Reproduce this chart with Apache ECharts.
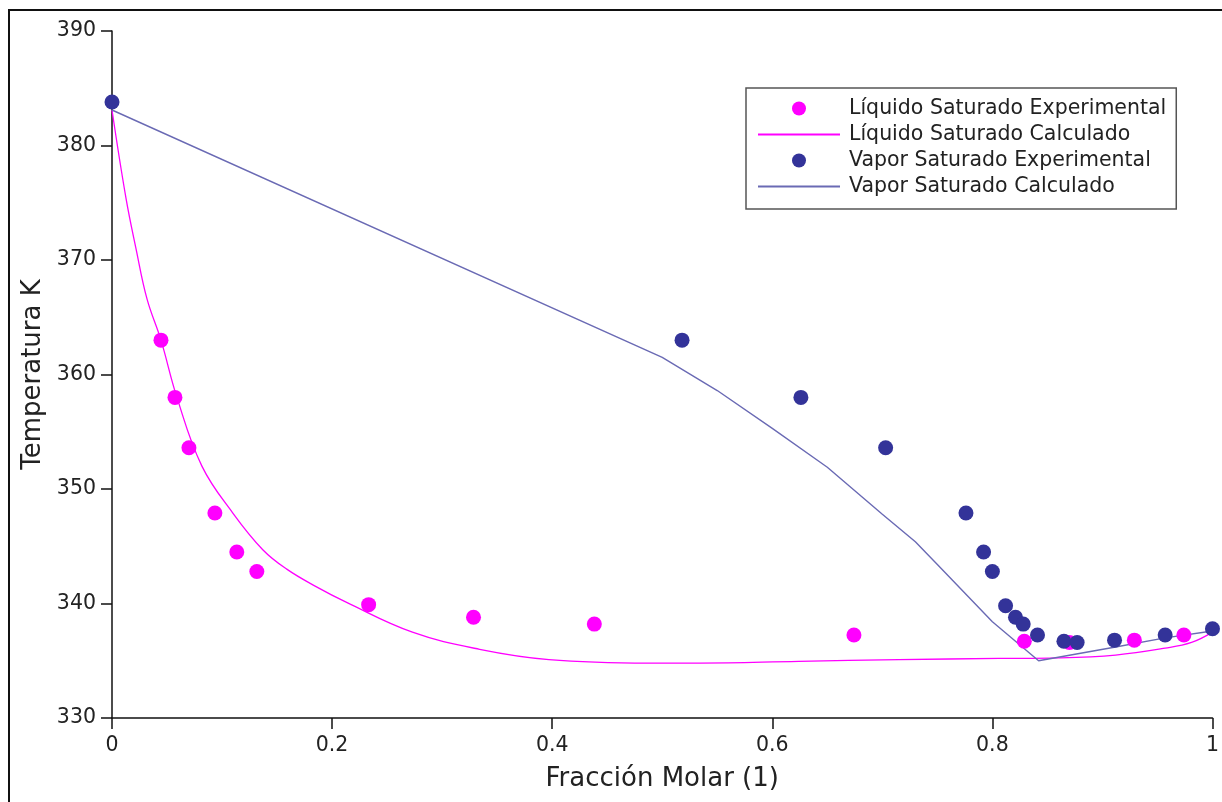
<!DOCTYPE html>
<html>
<head>
<meta charset="utf-8">
<script src="https://cdn.jsdelivr.net/npm/echarts@6/dist/echarts.min.js"></script>
<style>
  html, body { margin: 0; padding: 0; background: #fff; }
  #chart { width: 1222px; height: 802px; }
</style>
</head>
<body>
<div id="chart"></div>
<script>
// Saturated liquid, experimental (mole fraction, K)
const xLiqExp = [0.0445, 0.0572, 0.0699, 0.0935, 0.1134, 0.1316, 0.2332, 0.3285, 0.4383, 0.6742, 0.829, 0.870, 0.929, 0.974];
const tLiqExp = [363.0, 358.0, 353.6, 347.9, 344.5, 342.8, 339.9, 338.8, 338.2, 337.25, 336.7, 336.6, 336.8, 337.25];

// Saturated liquid, calculated curve
const xLiqCalc = [0, 0.0127, 0.0218, 0.0318, 0.0445, 0.059, 0.0817, 0.1098, 0.137, 0.1588, 0.185, 0.2132, 0.273, 0.334, 0.397, 0.488, 0.534, 0.624, 0.715, 0.806, 0.860, 0.912, 0.957, 0.981, 1.0];
const tLiqCalc = [383.1, 375.4, 371.0, 366.6, 363.0, 358.0, 352.0, 347.9, 344.7, 343.0, 341.5, 340.1, 337.5, 336.0, 335.1, 334.8, 334.8, 334.95, 335.1, 335.2, 335.25, 335.5, 336.1, 336.6, 337.5];

// Saturated vapour, experimental
const xVapExp = [0, 0.518, 0.626, 0.703, 0.776, 0.792, 0.800, 0.812, 0.821, 0.828, 0.841, 0.865, 0.877, 0.911, 0.957, 1.0];
const tVapExp = [383.8, 363.0, 358.0, 353.6, 347.9, 344.5, 342.8, 339.8, 338.8, 338.2, 337.25, 336.7, 336.6, 336.8, 337.25, 337.8];

// Saturated vapour, calculated curve
const xVapCalc = [0, 0.5, 0.55, 0.6, 0.65, 0.7, 0.73, 0.75, 0.8, 0.842, 0.912, 0.957, 1.0];
const tVapCalc = [383.1, 361.5, 358.6, 355.3, 351.9, 347.8, 345.4, 343.4, 338.4, 335.0, 336.2, 337.0, 337.6];

// Axis ticks
const xTicks = [0, 0.2, 0.4, 0.6, 0.8, 1];
const yTicks = [330, 340, 350, 360, 370, 380, 390];

const pairs = (xs, ys) => xs.map((x, i) => [x, ys[i]]);

const FONT = 'DejaVu Sans';
const MAGENTA = '#ff00ff';
const NAVY = '#333399';
const SLATE = '#6a6ab4';

const chart = echarts.init(document.getElementById('chart'), null, { renderer: 'canvas' });

chart.setOption({
  animation: false,
  backgroundColor: '#fff',
  textStyle: { fontFamily: FONT },
  graphic: [{
    type: 'rect',
    shape: { x: 9, y: 10, width: 1240, height: 820 },
    style: { fill: 'none', stroke: '#111', lineWidth: 2 },
    silent: true, z: -1
  }],
  grid: { left: 112, right: 8, top: 31, bottom: 84, containLabel: false },
  legend: {
    orient: 'vertical',
    left: 746, top: 88,
    padding: [10, 10, 12, 11],
    itemWidth: 82, itemHeight: 14, itemGap: 5,
    backgroundColor: '#fff',
    borderColor: '#555', borderWidth: 1.5, borderRadius: 0,
    textStyle: { fontFamily: FONT, fontSize: 20.5, color: '#222', padding: [0, 0, 0, 4] },
    data: [
      { name: 'Líquido Saturado Experimental' },
      { name: 'Líquido Saturado Calculado', itemStyle: { opacity: 0 } },
      { name: 'Vapor Saturado Experimental' },
      { name: 'Vapor Saturado Calculado', itemStyle: { opacity: 0 } }
    ]
  },
  xAxis: {
    type: 'value',
    min: xTicks[0], max: xTicks[xTicks.length - 1], interval: 0.2,
    name: 'Fracción Molar (1)',
    nameLocation: 'middle', nameGap: 48,
    nameTextStyle: { fontFamily: FONT, fontSize: 26, color: '#222' },
    axisLine: { show: true, onZero: false, lineStyle: { color: '#111', width: 1.5 } },
    axisTick: { show: true, inside: false, length: 11, lineStyle: { color: '#111', width: 1.5 } },
    axisLabel: {
      fontFamily: FONT, fontSize: 20.5, color: '#222', margin: 17,
      formatter: v => String(parseFloat(v.toFixed(1)))
    },
    splitLine: { show: false }
  },
  yAxis: {
    type: 'value',
    min: yTicks[0], max: yTicks[yTicks.length - 1], interval: 10,
    name: 'Temperatura K',
    nameLocation: 'middle', nameGap: 65, nameRotate: 90,
    nameTextStyle: { fontFamily: FONT, fontSize: 26, color: '#222' },
    axisLine: { show: true, onZero: false, lineStyle: { color: '#111', width: 1.5 } },
    axisTick: { show: true, inside: false, length: 11, lineStyle: { color: '#111', width: 1.5 } },
    axisLabel: { fontFamily: FONT, fontSize: 20.5, color: '#222', margin: 16 },
    splitLine: { show: false }
  },
  series: [
    {
      name: 'Líquido Saturado Experimental',
      type: 'scatter',
      symbol: 'circle', symbolSize: 15,
      itemStyle: { color: MAGENTA, opacity: 1 },
      data: pairs(xLiqExp, tLiqExp),
      z: 3
    },
    {
      name: 'Líquido Saturado Calculado',
      type: 'line',
      symbol: 'none', showSymbol: false,
      smooth: 0.4,
      lineStyle: { color: MAGENTA, width: 1.3 },
      itemStyle: { color: MAGENTA },
      data: pairs(xLiqCalc, tLiqCalc),
      z: 2
    },
    {
      name: 'Vapor Saturado Experimental',
      type: 'scatter',
      symbol: 'circle', symbolSize: 15,
      itemStyle: { color: NAVY, opacity: 1 },
      data: pairs(xVapExp, tVapExp),
      z: 4
    },
    {
      name: 'Vapor Saturado Calculado',
      type: 'line',
      symbol: 'none', showSymbol: false,
      lineStyle: { color: SLATE, width: 1.4 },
      itemStyle: { color: SLATE },
      data: pairs(xVapCalc, tVapCalc),
      z: 2
    }
  ]
});
</script>
</body>
</html>
